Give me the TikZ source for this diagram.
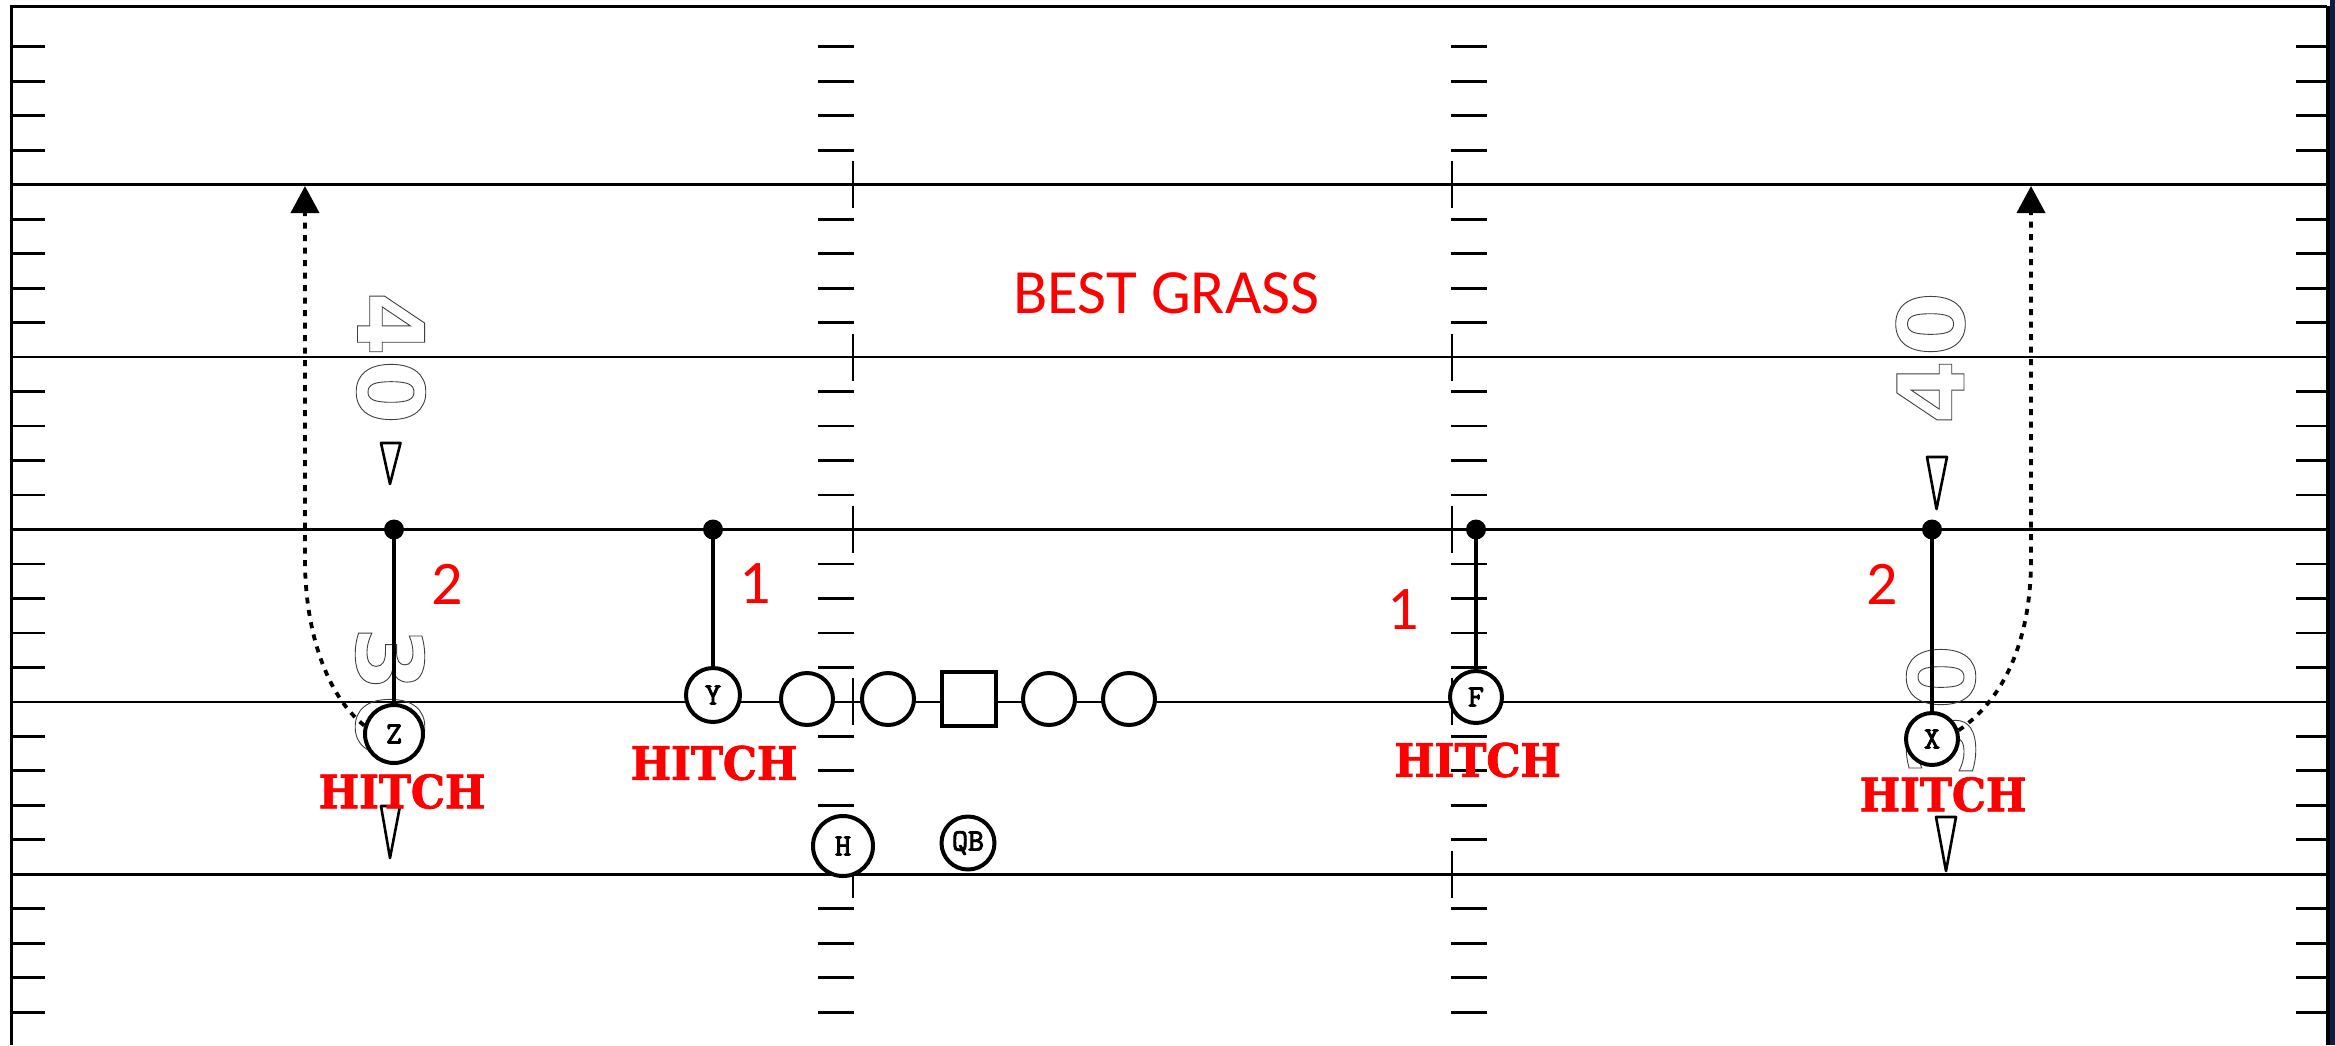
\documentclass[tikz,border=0pt]{standalone}
\usepackage{fontspec}
\setmainfont{Carlito}
\newfontfamily\hitchfont{DejaVu Serif}[FakeStretch=0.93,FakeBold=1.6]
\newfontfamily\numfont{DejaVu Sans}
\newfontfamily\labfont{Latin Modern Mono}[FakeBold=3]
\usetikzlibrary{arrows.meta}
\definecolor{navyedge}{HTML}{0B1F44}
\makeatletter
\newcommand\outlined[1]{\pgfsys@invoke{q 0.25 G 0.9 w 1 Tr}#1\pgfsys@invoke{Q}}
\makeatother
\begin{document}
\begin{tikzpicture}[x=1pt,y=-1pt,
  yardline/.style={line width=2.7pt},
  hashmark/.style={line width=2.8pt},
  border/.style={line width=3pt},
  player/.style={circle, draw, line width=4pt, fill=white, inner sep=0pt,
    minimum size=#1, font=\labfont\fontsize{31}{31}\selectfont},
  lineman/.style={circle, draw, line width=4pt, fill=white, inner sep=0pt, minimum size=52pt},
  center/.style={rectangle, draw, line width=4.5pt, fill=white, inner sep=0pt, minimum size=54pt},
  dotnode/.style={circle, fill=black, inner sep=0pt, minimum size=20pt},
  stem/.style={line width=3.6pt},
  dotroute/.style={line width=3.8pt, dash pattern=on 6pt off 6.5pt,
    -{Triangle[width=28pt,length=27pt]}},
  marker/.style={line width=2.6pt, line join=round},
  hitch/.style={text=red, inner sep=0pt, font=\hitchfont\bfseries\fontsize{46}{46}\selectfont},
  redtext/.style={text=red, inner sep=0pt, font=\fontsize{62}{62}\selectfont},
  yardnum/.style={inner sep=0pt, font=\numfont\bfseries\fontsize{92}{92}\selectfont}
]
\useasboundingbox (0,0) rectangle (2335,1045);
\fill[white] (0,0) rectangle (2335,1045);

% sideline ticks and hash marks
\foreach \j in {-4,...,24}{
  \pgfmathtruncatemacro\r{mod(\j+5,5)}
  \ifnum\r=0\relax\else
    \pgfmathsetmacro\yy{184.7+34.48*\j}
    \draw[hashmark] (11,\yy) -- (45,\yy);
    \draw[hashmark] (2296,\yy) -- (2327,\yy);
    \draw[hashmark] (818,\yy) -- (854,\yy);
    \draw[hashmark] (1451,\yy) -- (1487,\yy);
  \fi
}
% yard lines
\foreach \k in {0,...,4}{
  \pgfmathsetmacro\yy{184.7+172.4*\k}
  \draw[yardline] (11,\yy) -- (2327,\yy);
  \draw[hashmark] (853,\yy-23.5) -- (853,\yy+23.5);
  \draw[hashmark] (1452,\yy-23.5) -- (1452,\yy+23.5);
}
% borders
\draw[border] (11,1045) -- (11,6) -- (2327,6);
\fill[navyedge] (2329.5,0) rectangle (2335,1045);
\draw[line width=4pt] (2327.5,6) -- (2327.5,1045);

% yard numbers
\node[yardnum, rotate=-90] (n40l) at (391,358) {\outlined{4\kern4pt0}};
\node[yardnum, rotate=-90] (n30l) at (390,693) {\outlined{3\kern4pt0}};
\node[yardnum, rotate=90] (n40r) at (1930.5,358) {\outlined{4\kern4pt0}};
\node[yardnum, rotate=90] (n30r) at (1941,711) {\outlined{3\kern4pt0}};

% direction markers
\draw[marker] (381,443) -- (400.5,443) -- (390,484) -- cycle;
\draw[marker] (381,806) -- (400,806) -- (390,858) -- cycle;
\draw[marker] (1927,457) -- (1947,457) -- (1936.5,509) -- cycle;
\draw[marker] (1936,817) -- (1956,817) -- (1946,871) -- cycle;

% dots
\node[dotnode] (zd) at (394,529.5) {};
\node[dotnode] (yd) at (713,529.5) {};
\node[dotnode] (fd) at (1476,529.5) {};
\node[dotnode] (xd) at (1932,529.5) {};

% players
\node[player=54pt] (Y) at (713,695) {Y};
\node[lineman] (L1) at (807,699) {};
\node[lineman] (L2) at (888,699) {};
\node[center] (C) at (969,699) {};
\node[lineman] (R1) at (1049,699) {};
\node[lineman] (R2) at (1129,699) {};
\node[player=52pt] (F) at (1476,697) {F};
\node[player=58pt] (Z) at (394,734) {Z};
\node[player=52pt] (X) at (1932,739) {X};
\node[player=60pt] (H) at (843,846) {H};
\node[player=53pt] (QB) at (968,843) {QB};

% routes
\draw[stem] (zd.center) -- (Z);
\draw[stem] (yd.center) -- (Y);
\draw[stem] (fd.center) -- (F);
\draw[stem] (xd.center) -- (X);
\coordinate (ltip) at (305,186);
\coordinate (rtip) at (2031,186);
\draw[dotroute] (Z.164) .. controls (326,695) and (305,630) .. (305,560) -- (ltip);
\draw[dotroute] (X.18) .. controls (2010,695) and (2031,630) .. (2031,560) -- (rtip);

% labels
\node[hitch] (hz) at (402,791.5) {HITCH};
\node[hitch] (hy) at (714,763) {HITCH};
\node[hitch] (hf) at (1477.5,760) {HITCH};
\node[hitch] (hx) at (1943,794.5) {HITCH};
\node[redtext] (tz) at (447,584) {2};
\node[redtext] (ty) at (755,584) {1};
\node[redtext] (tf) at (1403,610) {1};
\node[redtext] (tx) at (1882.5,584.5) {2};
\node[redtext, font=\fontsize{63}{63}\selectfont] (best) at (1166.5,293) {BEST GRASS};
\end{tikzpicture}
\end{document}
